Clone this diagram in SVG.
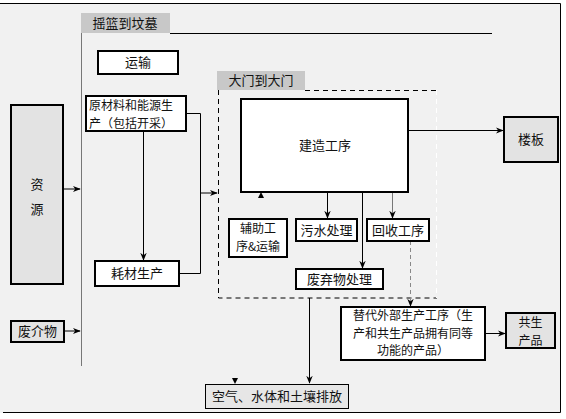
<svg xmlns="http://www.w3.org/2000/svg" width="566" height="419" viewBox="0 0 566 419">
<defs>
<style>
text{font-family:"Noto Sans CJK SC","Noto Sans",sans-serif;font-size:13px;fill:#111;}
.c{text-anchor:middle;}
.m{font-size:12px;}
.wb{fill:#fff;stroke:#000;stroke-width:2;}
.gb{fill:#e3e3e3;stroke:#000;stroke-width:2;}
.ln{fill:none;stroke:#000;stroke-width:1;}
.gl{fill:none;stroke:#777;stroke-width:1;}
.dl{fill:none;stroke:#000;stroke-width:1;stroke-dasharray:5,4;}
.tab{fill:#c8c8c8;}
</style>
<marker id="ar" viewBox="0 0 10 10" refX="9" refY="5" markerWidth="8" markerHeight="8" orient="auto" markerUnits="userSpaceOnUse">
<path d="M0,1 L10,5 L0,9 L3,5 Z" fill="#000"/>
</marker>
</defs>
<rect x="0" y="0" width="566" height="419" fill="#fff"/>
<rect x="0" y="3" width="560" height="410" fill="#f1f1f1"/>
<path d="M0,3.5 H560.5 V412.5 H3" class="ln"/>

<g id="cradle-frame">
<rect x="81" y="13" width="89" height="20" class="tab"/>
<text x="125" y="28" class="c">摇篮到坟墓</text>
<path d="M170,33.5 H492" class="ln"/>
<path d="M81.5,33 V366" class="gl"/>
</g>

<g id="gate-frame">
<rect x="217" y="71" width="88" height="19" class="tab"/>
<text x="261" y="85" class="c">大门到大门</text>
<path d="M305,90.5 H437" class="dl"/>
<path d="M218.5,90 V298 H437" class="dl"/>
<path d="M436.5,90 V298" fill="none" stroke="#fff" stroke-width="1" stroke-dasharray="5,4"/>
</g>

<g id="connectors">
<path d="M63,189 H80" class="ln" marker-end="url(#ar)"/>
<path d="M64,331 H80" class="ln" marker-end="url(#ar)"/>
<path d="M143.5,131 V260" class="ln" marker-end="url(#ar)"/>
<path d="M187,113.5 H200.5 V273.5 H179" class="ln"/>
<path d="M200,193 H217" class="ln" marker-end="url(#ar)"/>
<path d="M408,130.5 H503" class="ln" marker-end="url(#ar)"/>
<path d="M261,192 L258,198 H264 Z" fill="#000"/>
<path d="M327.5,192 V218" class="ln" marker-end="url(#ar)"/>
<path d="M392.5,192 V218" class="gl" marker-end="url(#ar)"/>
<path d="M362.5,192 V268" class="ln" marker-end="url(#ar)"/>
<path d="M410.5,241 V306" fill="none" stroke="#888" stroke-width="1" stroke-dasharray="4,3" marker-end="url(#ar)"/>
<path d="M485,333.5 H505" class="ln" marker-end="url(#ar)"/>
<path d="M309.5,298 V383" class="ln" marker-end="url(#ar)"/>
<path d="M232,378 H238 L235,384 Z" fill="#000"/>
</g>

<g id="resource">
<rect x="11" y="105" width="52" height="179" class="gb"/>
<text x="37" y="189" class="c">资</text>
<text x="37" y="214" class="c">源</text>
</g>

<g id="waste-in">
<rect x="11" y="321" width="53" height="21" class="gb"/>
<text x="37.5" y="336" class="c">废介物</text>
</g>

<g id="transport">
<rect x="98" y="51" width="80" height="23" class="wb"/>
<text x="138" y="67" class="c">运输</text>
</g>

<g id="raw-material">
<rect x="86" y="96" width="100" height="35" class="wb"/>
<text x="89" y="110" class="m">原材料和能源生</text>
<text x="89" y="127.5" class="m">产（包括开采）</text>
</g>

<g id="consumables">
<rect x="95" y="261" width="84" height="25" class="wb"/>
<text x="137" y="278" class="c">耗材生产</text>
</g>

<g id="construction">
<rect x="241" y="99" width="167" height="93" class="wb"/>
<text x="325" y="150" class="c">建造工序</text>
</g>

<g id="floor">
<rect x="504" y="117" width="54" height="45" class="gb"/>
<text x="531" y="144" class="c">楼板</text>
</g>

<g id="auxiliary">
<rect x="229" y="219" width="58" height="38" class="wb"/>
<text x="258" y="233" class="c m">辅助工</text>
<text x="258" y="250.5" class="c m">序&amp;运输</text>
</g>

<g id="sewage">
<rect x="296" y="219" width="61" height="22" class="wb"/>
<text x="326.5" y="235" class="c">污水处理</text>
</g>

<g id="recycle">
<rect x="367" y="219" width="62" height="22" class="wb"/>
<text x="398" y="235" class="c">回收工序</text>
</g>

<g id="waste-treatment">
<rect x="296" y="269" width="87" height="20" class="wb"/>
<text x="339.5" y="284" class="c">废弃物处理</text>
</g>

<g id="substitute">
<rect x="341" y="307" width="144" height="53" class="wb"/>
<text x="413" y="320" class="c m">替代外部生产工序（生</text>
<text x="413" y="337.5" class="c m">产和共生产品拥有同等</text>
<text x="413" y="355" class="c m">功能的产品）</text>
</g>

<g id="coproduct">
<rect x="506" y="313" width="49" height="35" class="gb"/>
<text x="530.5" y="327" class="c m">共生</text>
<text x="530.5" y="344.5" class="c m">产品</text>
</g>

<g id="emissions">
<rect x="205.5" y="384.5" width="143" height="24" fill="#e6e6e6" stroke="#000" stroke-width="1"/>
<text x="277" y="401" class="c">空气、水体和土壤排放</text>
</g>
</svg>
